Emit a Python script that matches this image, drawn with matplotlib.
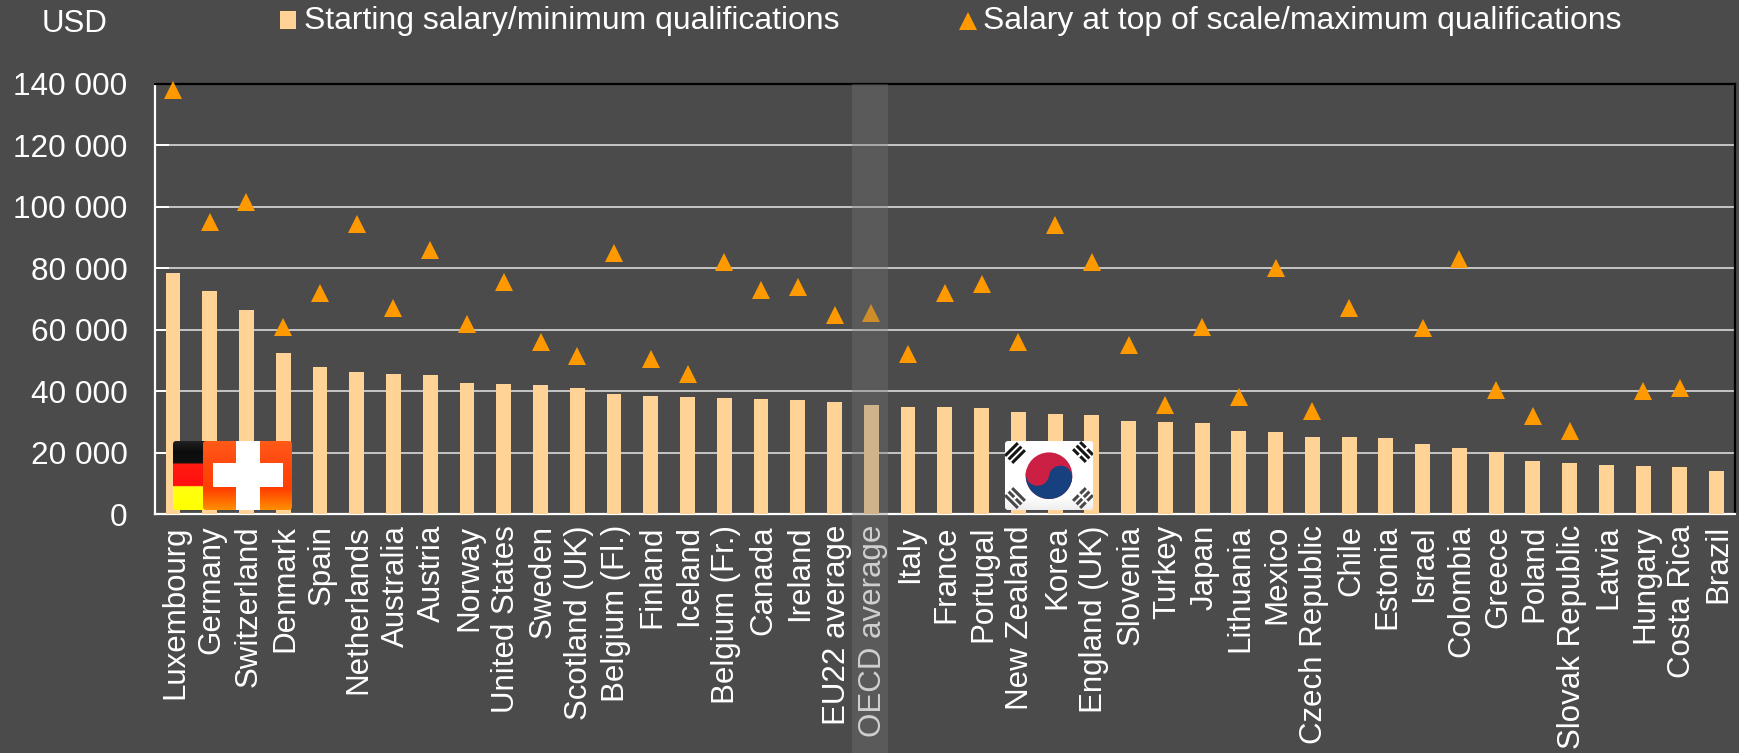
import numpy as np
import matplotlib
matplotlib.use("Agg")
import matplotlib.pyplot as plt
from matplotlib.patches import FancyBboxPatch, Rectangle, Wedge, Circle, Patch
from matplotlib.lines import Line2D
from matplotlib.colors import LinearSegmentedColormap
from matplotlib.transforms import ScaledTranslation

plt.rcParams['font.family'] = ['Liberation Sans', 'DejaVu Sans']

countries = ["Luxembourg", "Germany", "Switzerland", "Denmark", "Spain", "Netherlands", "Australia",
             "Austria", "Norway", "United States", "Sweden", "Scotland (UK)", "Belgium (Fl.)", "Finland",
             "Iceland", "Belgium (Fr.)", "Canada", "Ireland", "EU22 average", "OECD average", "Italy",
             "France", "Portugal", "New Zealand", "Korea", "England (UK)", "Slovenia", "Turkey", "Japan",
             "Lithuania", "Mexico", "Czech Republic", "Chile", "Estonia", "Israel", "Colombia", "Greece",
             "Poland", "Slovak Republic", "Latvia", "Hungary", "Costa Rica", "Brazil"]
starting = [78500, 72500, 66300, 52500, 48000, 46200, 45500, 45300, 42800, 42300, 42000, 41000, 39000,
            38500, 38000, 37700, 37500, 37000, 36500, 35500, 34900, 34700, 34500, 33200, 32500, 32300,
            30300, 30000, 29700, 27000, 26800, 25200, 25000, 24800, 22700, 21600, 20300, 17200, 16500,
            15900, 15700, 15300, 13900]
top_scale = [138000, 95000, 101500, 61000, 72000, 94500, 67000, 86000, 62000, 75500, 56000, 51500, 85000,
             50500, 45500, 82000, 73000, 74000, 64800, 65500, 52000, 72000, 75000, 56000, 94000, 82000,
             55000, 35500, 61000, 38000, 80000, 33500, 67000, np.nan, 60500, 83000, 40500, 32000, 27000,
             np.nan, 40000, 41000, np.nan]
y_ticks = [0, 20000, 40000, 60000, 80000, 100000, 120000, 140000]
y_labels = ["0", "20 000", "40 000", "60 000", "80 000", "100 000", "120 000", "140 000"]
label_start = "Starting salary/minimum qualifications"
label_top = "Salary at top of scale/maximum qualifications"

W, H = 1740, 753
BG = "#4b4b4b"
BAR = "#ffd395"
TRI = "#ff9900"
FS = 22.5

fig = plt.figure(figsize=(W / 100, H / 100), dpi=100, facecolor=BG)
ax = fig.add_axes([154.6 / W, 1 - 514 / H, (1735 - 154.6) / W, (514 - 84) / H], facecolor=BG)
x = np.arange(len(countries))
ax.bar(x, starting, width=0.405, color=BAR, zorder=3)
ax.plot(x, top_scale, ls="none", marker="^", ms=12.5, mfc=TRI, mec=TRI, mew=0, zorder=4, clip_on=False)
ax.set_xlim(-0.5, 42.5)
ax.set_ylim(0, 140000)
ax.set_yticks(y_ticks, y_labels)
ax.set_xticks(x, countries, rotation=90)
ax.yaxis.grid(True, color="#cfcfcf", lw=1.3, zorder=1)
ax.set_axisbelow(True)
ax.tick_params(axis="x", length=0, labelsize=FS, labelcolor="white", pad=8)
ax.tick_params(axis="y", direction="in", length=10, width=1.4, color="white", labelsize=22.7,
               labelcolor="white", pad=19.5)
shift = ScaledTranslation(2 / 100, 0, fig.dpi_scale_trans)
for lab in ax.get_xticklabels():
    lab.set_transform(lab.get_transform() + shift)
for s in ["left", "bottom"]:
    ax.spines[s].set_color("white")
    ax.spines[s].set_linewidth(1.6)
for s in ["top", "right"]:
    ax.spines[s].set_color("black")
    ax.spines[s].set_linewidth(1.6)

fig.text(75 / W, 1 - 24 / H, "USD", color="white", fontsize=FS, ha="center", va="center")

handles = [Patch(facecolor=BAR, edgecolor="none", label=label_start),
           Line2D([], [], ls="none", marker="^", ms=12.5, mfc=TRI, mec=TRI, mew=0, label=label_top)]
leg = fig.legend(handles=handles, loc="center left", bbox_to_anchor=(280 / W, 1 - 21 / H), ncol=2, frameon=False,
                 fontsize=22.95, labelcolor="white", handlelength=0.5, handleheight=0.5, handletextpad=0.25,
                 columnspacing=3.77, borderpad=0, borderaxespad=0)
h_patch, h_line = leg.legend_handles
h_patch.set_y(h_patch.get_y() - 1.6)
h_line.set_ydata(np.asarray(h_line.get_ydata()) - 1.6)

# overlay in reference pixel coordinates: highlight band and flags
ov = fig.add_axes([0, 0, 1, 1], facecolor="none", zorder=10)
ov.axis("off")
ov.set_xlim(0, W)
ov.set_ylim(H, 0)


def flag_base(x0, y0, w, h, colors, stops=None):
    clip = FancyBboxPatch((x0 + 2, y0 + 2), w - 4, h - 4, boxstyle="round,pad=2,rounding_size=3",
                          fc="none", ec="none", transform=ov.transData)
    ov.add_patch(clip)
    cmap = LinearSegmentedColormap.from_list("f", list(zip(stops, colors)) if stops else colors)
    im = ov.imshow(np.linspace(0, 1, 256).reshape(-1, 1), cmap=cmap, extent=(x0, x0 + w, y0 + h, y0),
                   aspect="auto", origin="upper", zorder=11)
    im.set_clip_path(clip)
    return clip


# Germany
flag_base(173, 441, 89, 69,
          ["#222222", "#0c0c0c", "#111111", "#ff1a10", "#ff1010", "#ffff10", "#ffff00"],
          [0, 0.15, 0.32, 0.33, 0.65, 0.66, 1])
# Switzerland
flag_base(203, 441, 89, 69, ["#ff5a18", "#ff4a10", "#ff4000", "#ff9000"], [0, 0.3, 0.7, 1])
ov.add_patch(Rectangle((236, 441), 24, 69, fc="white", ec="none", zorder=12))
ov.add_patch(Rectangle((213, 463), 70, 24, fc="white", ec="none", zorder=12))
# Korea
kclip = flag_base(1005, 441, 88, 69, ["#ffffff", "#ffffff", "#eeeeee"], [0, 0.8, 1])
cx, cy, r = 1049, 475.7, 23.3
tilt = 8
RED, BLUE = "#cc1f44", "#17407f"
ov.add_patch(Circle((cx, cy), r, fc=RED, ec="none", zorder=12))
ov.add_patch(Wedge((cx, cy), r, tilt, tilt + 180, fc=BLUE, ec="none", zorder=13))
a = np.deg2rad(tilt)
ov.add_patch(Circle((cx + r / 2 * np.cos(a), cy + r / 2 * np.sin(a)), r / 2, fc=BLUE, ec="none", zorder=14))
ov.add_patch(Circle((cx - r / 2 * np.cos(a), cy - r / 2 * np.sin(a)), r / 2, fc=RED, ec="none", zorder=14))
for (gx, gy, ang, broken, col) in [(1015, 453, 45, [0, 0, 0], "#151515"),
                                   (1083, 452, -45, [1, 0, 1], "#151515"),
                                   (1015, 498, -45, [0, 1, 0], "#484848"),
                                   (1083, 498, 45, [1, 1, 1], "#484848")]:
    t = np.deg2rad(ang)
    ux, uy = np.cos(t), -np.sin(t)
    nx, ny = -uy, ux
    for k, b in zip((-5, 0, 5), broken):
        mx, my = gx + k * nx, gy + k * ny
        segs = [(-9, -1.2), (1.2, 9)] if b else [(-9, 9)]
        for p, q in segs:
            ln, = ov.plot([mx + p * ux, mx + q * ux], [my + p * uy, my + q * uy], color=col, lw=2.2,
                          solid_capstyle="butt", zorder=15)
            ln.set_clip_path(kclip)

ov.add_patch(Rectangle((852, 84), 36, H - 84, fc="#787878", ec="none", alpha=0.35, zorder=20))
ov.set_xlim(0, W)
ov.set_ylim(H, 0)

fig.savefig("out.png", dpi=100, facecolor=BG)
